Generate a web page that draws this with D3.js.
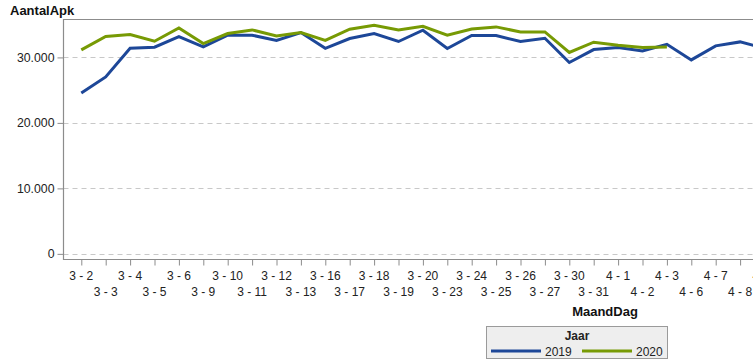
<!DOCTYPE html>
<html>
<head>
<meta charset="utf-8">
<script src="https://cdn.jsdelivr.net/npm/d3@7"></script>
<style>
  html, body { margin: 0; padding: 0; background: #fff; overflow: hidden; }
  svg { display: block; font-family: "Liberation Sans", Arial, sans-serif; }
</style>
</head>
<body>
<svg id="chart" width="753" height="364"></svg>
<script>
const categories = ["3 - 2","3 - 3","3 - 4","3 - 5","3 - 6","3 - 9","3 - 10","3 - 11","3 - 12","3 - 13",
  "3 - 16","3 - 17","3 - 18","3 - 19","3 - 20","3 - 23","3 - 24","3 - 25","3 - 26","3 - 27",
  "3 - 30","3 - 31","4 - 1","4 - 2","4 - 3","4 - 6","4 - 7","4 - 8","4 - 9"];
const values2019 = [24580, 27020, 31400, 31560, 33190, 31600, 33390, 33390, 32580, 33800,
  31380, 32880, 33650, 32430, 34150, 31360, 33340, 33340, 32430, 32930,
  29220, 31200, 31510, 30990, 32010, 29620, 31760, 32370, 31420];
const values2020 = [31150, 33190, 33490, 32470, 34500, 32120, 33650, 34200, 33280, 33800,
  32600, 34300, 34920, 34200, 34760, 33390, 34350, 34660, 33890, 33890,
  30750, 32320, 31860, 31510, 31600, null, null, null, null];
const seriesNames = ["2019", "2020"];
const seriesColors = ["#1d4798", "#779a04"];
const yTicks = [0, 10000, 20000, 30000];
const yTickLabels = ["0", "10.000", "20.000", "30.000"];
const yTitle = "AantalApk";
const xTitle = "MaandDag";
const legendTitle = "Jaar";

const svg = d3.select("#chart");
const plotLeft = 63.5, plotTop = 19.5, plotBottom = 259.5, plotRight = 790;
const firstX = 81.3, step = 24.4;

const x = d3.scalePoint().domain(categories)
  .range([firstX, firstX + step * (categories.length - 1)]);
const y = d3.scaleLinear().domain([-860, 35790]).range([plotBottom, plotTop]);

// gridlines
svg.append("g").selectAll("line").data(yTicks).join("line")
  .attr("x1", plotLeft).attr("x2", plotRight)
  .attr("y1", d => Math.round(y(d)) + 0.5).attr("y2", d => Math.round(y(d)) + 0.5)
  .attr("stroke", "#c8c8c8").attr("stroke-width", 1).attr("stroke-dasharray", "5,4");

// frame
svg.append("path")
  .attr("d", `M${plotRight},${plotTop}H${plotLeft}V${plotBottom}H${plotRight}`)
  .attr("fill", "none").attr("stroke", "#8c8c8c").attr("stroke-width", 1.2);

// y axis
const yAxis = d3.axisLeft(y).tickValues(yTicks)
  .tickFormat((d, i) => yTickLabels[i]).tickSize(6).tickPadding(3);
const gy = svg.append("g").attr("transform", `translate(${plotLeft},0)`).call(yAxis);
gy.select(".domain").remove();
gy.selectAll(".tick line").attr("stroke", "#8c8c8c");
gy.selectAll(".tick text").attr("font-size", "12.3px").attr("fill", "#222")
  .attr("font-family", "'Liberation Sans', Arial, sans-serif");

// x axis
const xAxis = d3.axisBottom(x).tickSize(6).tickFormat(() => "");
const gx = svg.append("g").attr("transform", `translate(0,${plotBottom})`).call(xAxis);
gx.select(".domain").remove();
gx.selectAll(".tick line").attr("stroke", "#8c8c8c");
svg.append("g").selectAll("text").data(categories).join("text")
  .attr("x", d => x(d))
  .attr("y", (d, i) => i % 2 === 0 ? 280 : 295.5)
  .attr("text-anchor", "middle").attr("font-size", "12px").attr("fill", "#222")
  .text(d => d);

// lines
const line = d3.line()
  .defined(d => d.v != null)
  .x(d => x(d.c)).y(d => y(d.v));
[values2019, values2020].forEach((vals, k) => {
  svg.append("path")
    .datum(categories.map((c, i) => ({ c, v: vals[i] })))
    .attr("d", line).attr("fill", "none")
    .attr("stroke", seriesColors[k]).attr("stroke-width", 3)
    .attr("stroke-linejoin", "miter");
});

// titles
svg.append("text").attr("x", 10).attr("y", 14.5)
  .attr("font-size", "13px").attr("font-weight", "bold").attr("fill", "#111").text(yTitle);
svg.append("text").attr("x", 605).attr("y", 315.5).attr("text-anchor", "middle")
  .attr("font-size", "13px").attr("font-weight", "bold").attr("fill", "#111").text(xTitle);

// legend
const lg = svg.append("g");
lg.append("rect").attr("x", 486.5).attr("y", 326.5).attr("width", 181).attr("height", 32)
  .attr("fill", "#eeeeee").attr("stroke", "#9a9a9a");
lg.append("text").attr("x", 577).attr("y", 340).attr("text-anchor", "middle")
  .attr("font-size", "12px").attr("font-weight", "bold").attr("fill", "#222").text(legendTitle);
const legendX = [491, 582];
seriesNames.forEach((name, k) => {
  lg.append("line").attr("x1", legendX[k]).attr("x2", legendX[k] + 50)
    .attr("y1", 351).attr("y2", 351)
    .attr("stroke", seriesColors[k]).attr("stroke-width", 3);
  lg.append("text").attr("x", legendX[k] + 54).attr("y", 355.5)
    .attr("font-size", "12px").attr("fill", "#222").text(name);
});
</script>
</body>
</html>
